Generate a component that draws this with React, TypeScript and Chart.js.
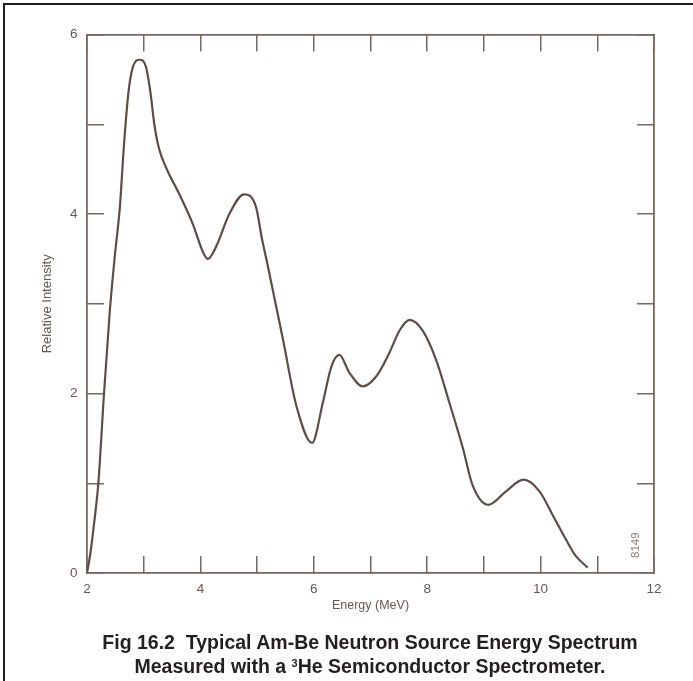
import React, { useEffect, useRef } from "react";
import { Chart, registerables } from "chart.js";

Chart.register(...registerables);

// Energy (MeV)
const energies: number[] = [
  2.0, 2.06, 2.13, 2.2, 2.3, 2.4, 2.49, 2.58, 2.65, 2.73, 2.81, 2.93, 3.04, 3.12,
  3.19, 3.27, 3.4, 3.63, 3.86, 4.05, 4.13, 4.28, 4.51, 4.77, 4.98, 5.09, 5.18,
  5.46, 5.69, 5.97, 6.16, 6.31, 6.45, 6.63, 6.86, 7.1, 7.33, 7.51, 7.69, 7.92,
  8.16, 8.39, 8.63, 8.8, 9.08, 9.39, 9.7, 9.98, 10.21, 10.45, 10.62, 10.83,
];
// Relative intensity at each energy
const intensities: number[] = [
  0.0, 0.22, 0.58, 1.0, 2.0, 2.9, 3.53, 4.08, 4.75, 5.35, 5.64, 5.72, 5.64, 5.35,
  4.99, 4.73, 4.51, 4.22, 3.9, 3.57, 3.5, 3.64, 4.0, 4.22, 4.08, 3.71, 3.45,
  2.59, 1.87, 1.45, 1.9, 2.3, 2.43, 2.23, 2.08, 2.19, 2.45, 2.7, 2.82, 2.7,
  2.37, 1.9, 1.39, 0.98, 0.76, 0.91, 1.04, 0.91, 0.65, 0.37, 0.19, 0.06,
];

const xMin = 2;
const xMax = 12;
const yMin = 0;
const yMax = 6;
const xLabelled: number[] = [2, 4, 6, 8, 10, 12];
const yLabelled: number[] = [0, 2, 4, 6];

const xTitle = "Energy (MeV)";
const yTitle = "Relative Intensity";
const figureCode = "8149";
const captionLine1 = "Fig 16.2  Typical Am-Be Neutron Source Energy Spectrum";
const captionLine2a = "Measured with a ";
const captionSup = "3";
const captionLine2b = "He Semiconductor Spectrometer.";

const LINE = "#5c4d46";
const AXIS = "#76675f";
const TEXT = "#645954";
const FONT = "'Liberation Sans', Arial, Helvetica, sans-serif";

export default function App() {
  const canvasRef = useRef<HTMLCanvasElement | null>(null);

  useEffect(() => {
    const canvas = canvasRef.current;
    if (!canvas) return;

    const codePlugin = {
      id: "figCode",
      afterDraw(chart: any) {
        const { ctx } = chart;
        const xs = chart.scales.x;
        const ys = chart.scales.y;
        ctx.save();
        ctx.translate(xs.getPixelForValue(11.68), ys.getPixelForValue(0.31));
        ctx.rotate(-Math.PI / 2);
        ctx.font = `11.5px ${FONT}`;
        ctx.fillStyle = "#8a7e78";
        ctx.textAlign = "center";
        ctx.textBaseline = "middle";
        ctx.fillText(figureCode, 0, 0);
        ctx.restore();
      },
    };

    const points = energies.map((e, i) => ({ x: e, y: intensities[i] }));

    const tickFont = { family: FONT, size: 13.5 };
    const grid = {
      drawOnChartArea: false,
      drawTicks: true,
      tickLength: -17,
      color: AXIS,
      lineWidth: 1.5,
    };
    const border = { display: true, color: AXIS, width: 1.8 };

    const chart = new Chart(canvas, {
      type: "line",
      data: {
        datasets: [
          {
            data: points,
            borderColor: LINE,
            borderWidth: 2.2,
            pointRadius: 0,
            fill: false,
            cubicInterpolationMode: "monotone",
            xAxisID: "x",
            yAxisID: "y",
          },
        ],
      },
      options: {
        responsive: false,
        animation: false,
        devicePixelRatio: 1,
        layout: { padding: { left: 0, right: 0, top: 0, bottom: 61 } },
        plugins: {
          legend: { display: false },
          tooltip: { enabled: false },
          title: { display: false },
        },
        scales: {
          x: {
            type: "linear",
            position: "bottom",
            min: xMin,
            max: xMax,
            afterFit: (s: any) => {
              s.height = 47;
            },
            ticks: {
              stepSize: 1,
              autoSkip: false,
              maxRotation: 0,
              padding: 25,
              color: TEXT,
              font: tickFont,
              callback: (v: any) => (xLabelled.includes(Number(v)) ? String(v) : ""),
            },
            grid,
            border,
            title: {
              display: true,
              text: xTitle,
              color: TEXT,
              font: { family: FONT, size: 12.5 },
              padding: { top: 0, bottom: 6.5 },
            },
          },
          xTop: {
            type: "linear",
            position: "top",
            min: xMin,
            max: xMax,
            afterFit: (s: any) => {
              s.height = 23;
            },
            ticks: { stepSize: 1, autoSkip: false, display: false },
            grid,
            border,
          },
          y: {
            type: "linear",
            position: "left",
            min: yMin,
            max: yMax,
            afterFit: (s: any) => {
              s.width = 87;
            },
            ticks: {
              stepSize: 1,
              autoSkip: false,
              padding: 26.5,
              color: TEXT,
              font: tickFont,
              callback: (v: any) => (yLabelled.includes(Number(v)) ? String(v) : ""),
            },
            grid,
            border,
            title: {
              display: true,
              text: yTitle,
              color: TEXT,
              font: { family: FONT, size: 13 },
              padding: { top: 40, bottom: 0 },
            },
          },
          yRight: {
            type: "linear",
            position: "right",
            min: yMin,
            max: yMax,
            afterFit: (s: any) => {
              s.width = 39;
            },
            ticks: { stepSize: 1, autoSkip: false, display: false },
            grid,
            border,
          },
        },
      },
      plugins: [codePlugin],
    } as any);

    return () => {
      chart.destroy();
    };
  }, []);

  return (
    <div
      style={{
        position: "fixed",
        left: 0,
        top: 0,
        width: 693,
        height: 681,
        background: "#ffffff",
        overflow: "hidden",
      }}
    >
      <canvas
        ref={canvasRef}
        width={693}
        height={681}
        style={{ position: "absolute", left: 0, top: 0, width: 693, height: 681 }}
      />
      <div
        style={{
          position: "absolute",
          left: 3,
          top: 3,
          width: 720,
          height: 720,
          borderLeft: "2px solid #1e1e1e",
          borderTop: "2px solid #1e1e1e",
          pointerEvents: "none",
        }}
      />
      <div
        style={{
          position: "absolute",
          left: 70,
          width: 600,
          top: 630,
          textAlign: "center",
          whiteSpace: "pre",
          fontFamily: FONT,
          fontWeight: "bold",
          fontSize: 19.5,
          lineHeight: "24px",
          color: "#231f20",
        }}
      >
        <div>{captionLine1}</div>
        <div>
          {captionLine2a}
          <span style={{ fontSize: 11, verticalAlign: "top", lineHeight: "18px" }}>{captionSup}</span>
          {captionLine2b}
        </div>
      </div>
    </div>
  );
}
